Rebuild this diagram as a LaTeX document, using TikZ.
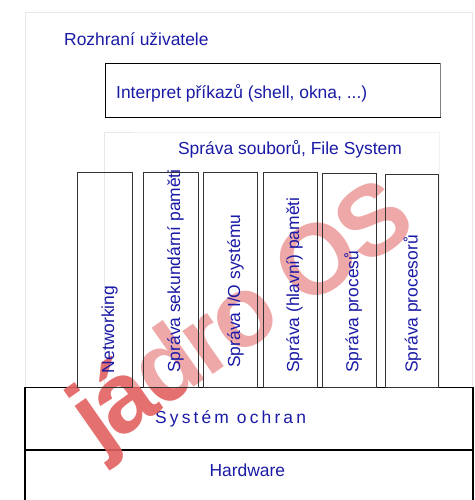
\documentclass[tikz,border=0pt]{standalone}
\usepackage{fontspec}
\setmainfont{Liberation Sans}
\definecolor{label}{HTML}{1A1AA6}
\definecolor{frame}{HTML}{333333}
\definecolor{faint}{HTML}{E8E8E8}
\definecolor{stamp}{HTML}{E26060}
\tikzset{
  caption/.style={text=label,font=\fontsize{17.5}{20}\selectfont,inner sep=0pt},
  column/.style={draw=frame,line width=0.8pt},
  layer/.style={draw=black,line width=1.2pt},
}

\begin{document}
\begin{tikzpicture}[x=1bp,y=-1bp]
\useasboundingbox (0,0) rectangle (475,500);
% user level
\draw[faint] (25,12) rectangle (472,500);
\node[caption,anchor=base west] (ui) at (64,45.5) {Rozhraní uživatele};
\draw[black,line width=0.8pt] (105,63) rectangle (440,117);
\draw[gray,line width=0.8pt] (440,63) -- (440,117);
\node[caption,anchor=base west] (shell) at (116,98.3) {Interpret příkazů (shell, okna, ...)};
\draw[faint] (104,132) rectangle (439,387);
% kernel layers
\draw[layer] (25,387.3) rectangle (473,450);
\draw[layer] (25,450) rectangle (473,505);
\node[caption,anchor=base west] (prot) at (155,423.3)
  {\addfontfeature{LetterSpace=18}Systém ochran};
\node[caption,anchor=base west] (hw) at (209.3,476.7) {Hardware};
% stamp across the kernel
\node[text=stamp,opacity=0.9,inner sep=0pt,rotate=35,anchor=base,
  font=\bfseries\fontsize{100}{110}\selectfont\addfontfeature{LetterSpace=-4}]
  (kernel) at (259.3,341.6) {jádro OS};
\fill[white,opacity=0.4] (133,132) rectangle (440,386.5);
\node[caption] (fs) at (290,149) {Správa souborů, File System};
% kernel modules
\foreach \l/\r/\t/\b/\s/\n/\txt in {
  77.7/132.3/172/114/373.3/net/Networking,
  143.7/198.3/172/180/373/disk/{Správa sekundární paměti},
  203.3/257.7/172/240/368/io/{Správa I/O systému},
  263/317.3/172/299/373/mem/{Správa (hlavní) paměti},
  322.7/376.7/173.3/358.3/373/proc/{Správa procesů},
  385/438.7/174.3/417.7/373/cpu/{Správa procesorů}}{
  \draw[column] (\l,\t) rectangle (\r,387.3);
  \node[caption,rotate=90,anchor=base west] (\n) at (\b,\s) {\txt};
}
\end{tikzpicture}
\end{document}
